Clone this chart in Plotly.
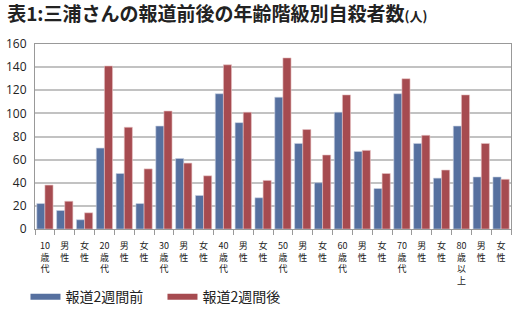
import plotly.graph_objects as go

tick_labels = ["10<br>歳<br>代", "男<br>性", "女<br>性",
               "20<br>歳<br>代", "男<br>性", "女<br>性",
               "30<br>歳<br>代", "男<br>性", "女<br>性",
               "40<br>歳<br>代", "男<br>性", "女<br>性",
               "50<br>歳<br>代", "男<br>性", "女<br>性",
               "60<br>歳<br>代", "男<br>性", "女<br>性",
               "70<br>歳<br>代", "男<br>性", "女<br>性",
               "80<br>歳<br>以<br>上", "男<br>性", "女<br>性"]
before_2w = [22, 16, 8, 70, 48, 22, 89, 61, 29, 117, 92, 27, 114, 74, 40, 101, 67, 35, 117, 74, 44, 89, 45, 45]
after_2w = [38, 24, 14, 141, 88, 52, 102, 57, 46, 142, 101, 42, 148, 86, 64, 116, 68, 48, 130, 81, 51, 116, 74, 43]
series_names = ["報道2週間前", "報道2週間後"]
y_ticks = [0, 20, 40, 60, 80, 100, 120, 140, 160]

positions = list(range(len(tick_labels)))
boundaries = [p - 0.5 for p in positions] + [positions[-1] + 0.5]

blue = "#56709f"
red = "#a64b50"
font_jp = "Noto Sans CJK JP"

fig = go.Figure()
fig.add_trace(go.Bar(x=positions, y=before_2w, name=series_names[0],
                     marker=dict(color=blue, line=dict(color="#c9d2e3", width=0.6)), showlegend=False))
fig.add_trace(go.Bar(x=positions, y=after_2w, name=series_names[1],
                     marker=dict(color=red, line=dict(color="#e8c4c6", width=0.6)), showlegend=False))
# legend proxies drawn as wide bars like the original
fig.add_trace(go.Scatter(x=[None], y=[None], mode="lines", name=series_names[0], line=dict(color=blue, width=6)))
fig.add_trace(go.Scatter(x=[None], y=[None], mode="lines", name=series_names[1], line=dict(color=red, width=6)))

fig.update_layout(
    width=512, height=327,
    margin=dict(l=35, r=1, t=44, b=98),
    paper_bgcolor="white", plot_bgcolor="white",
    barmode="group", bargap=0.18, bargroupgap=0,
    font=dict(family=font_jp, color="#222222"),
    title=dict(text="表1:三浦さんの報道前後の年齢階級別自殺者数<span style='font-size:13px'>(人)</span>",
               x=0.014, xanchor="left", xref="container", y=0.957, yanchor="middle",
               font=dict(family=font_jp, size=19, color="#222222", weight="bold")),
    legend=dict(orientation="h", x=-0.02, xanchor="left", y=-0.368, yanchor="middle",
                font=dict(family=font_jp, size=14, color="#222222"), entrywidth=92,
                itemwidth=30, bgcolor="rgba(0,0,0,0)"),
    xaxis=dict(range=[-0.5, len(tick_labels) - 0.5], tickvals=positions, ticktext=tick_labels,
               ticks="", showline=True, linecolor="#999999", linewidth=1, mirror=True,
               minor=dict(tickvals=boundaries, ticks="outside", ticklen=5, tickcolor="#999999", showgrid=False),
               tickfont=dict(family=font_jp, size=9, color="#222222"), tickangle=0, showgrid=False,
               zeroline=False, ticklabelstandoff=8),
    yaxis=dict(range=[0, 160], tickvals=y_ticks, showgrid=True, gridcolor="#c2c2c2", gridwidth=1.5,
               showline=True, linecolor="#999999", linewidth=1, mirror=True, ticks="",
               tickfont=dict(family="Open Sans", size=12, color="#222222"), zeroline=False,
               ticklabelstandoff=5),
)

fig.write_html("out.html")
